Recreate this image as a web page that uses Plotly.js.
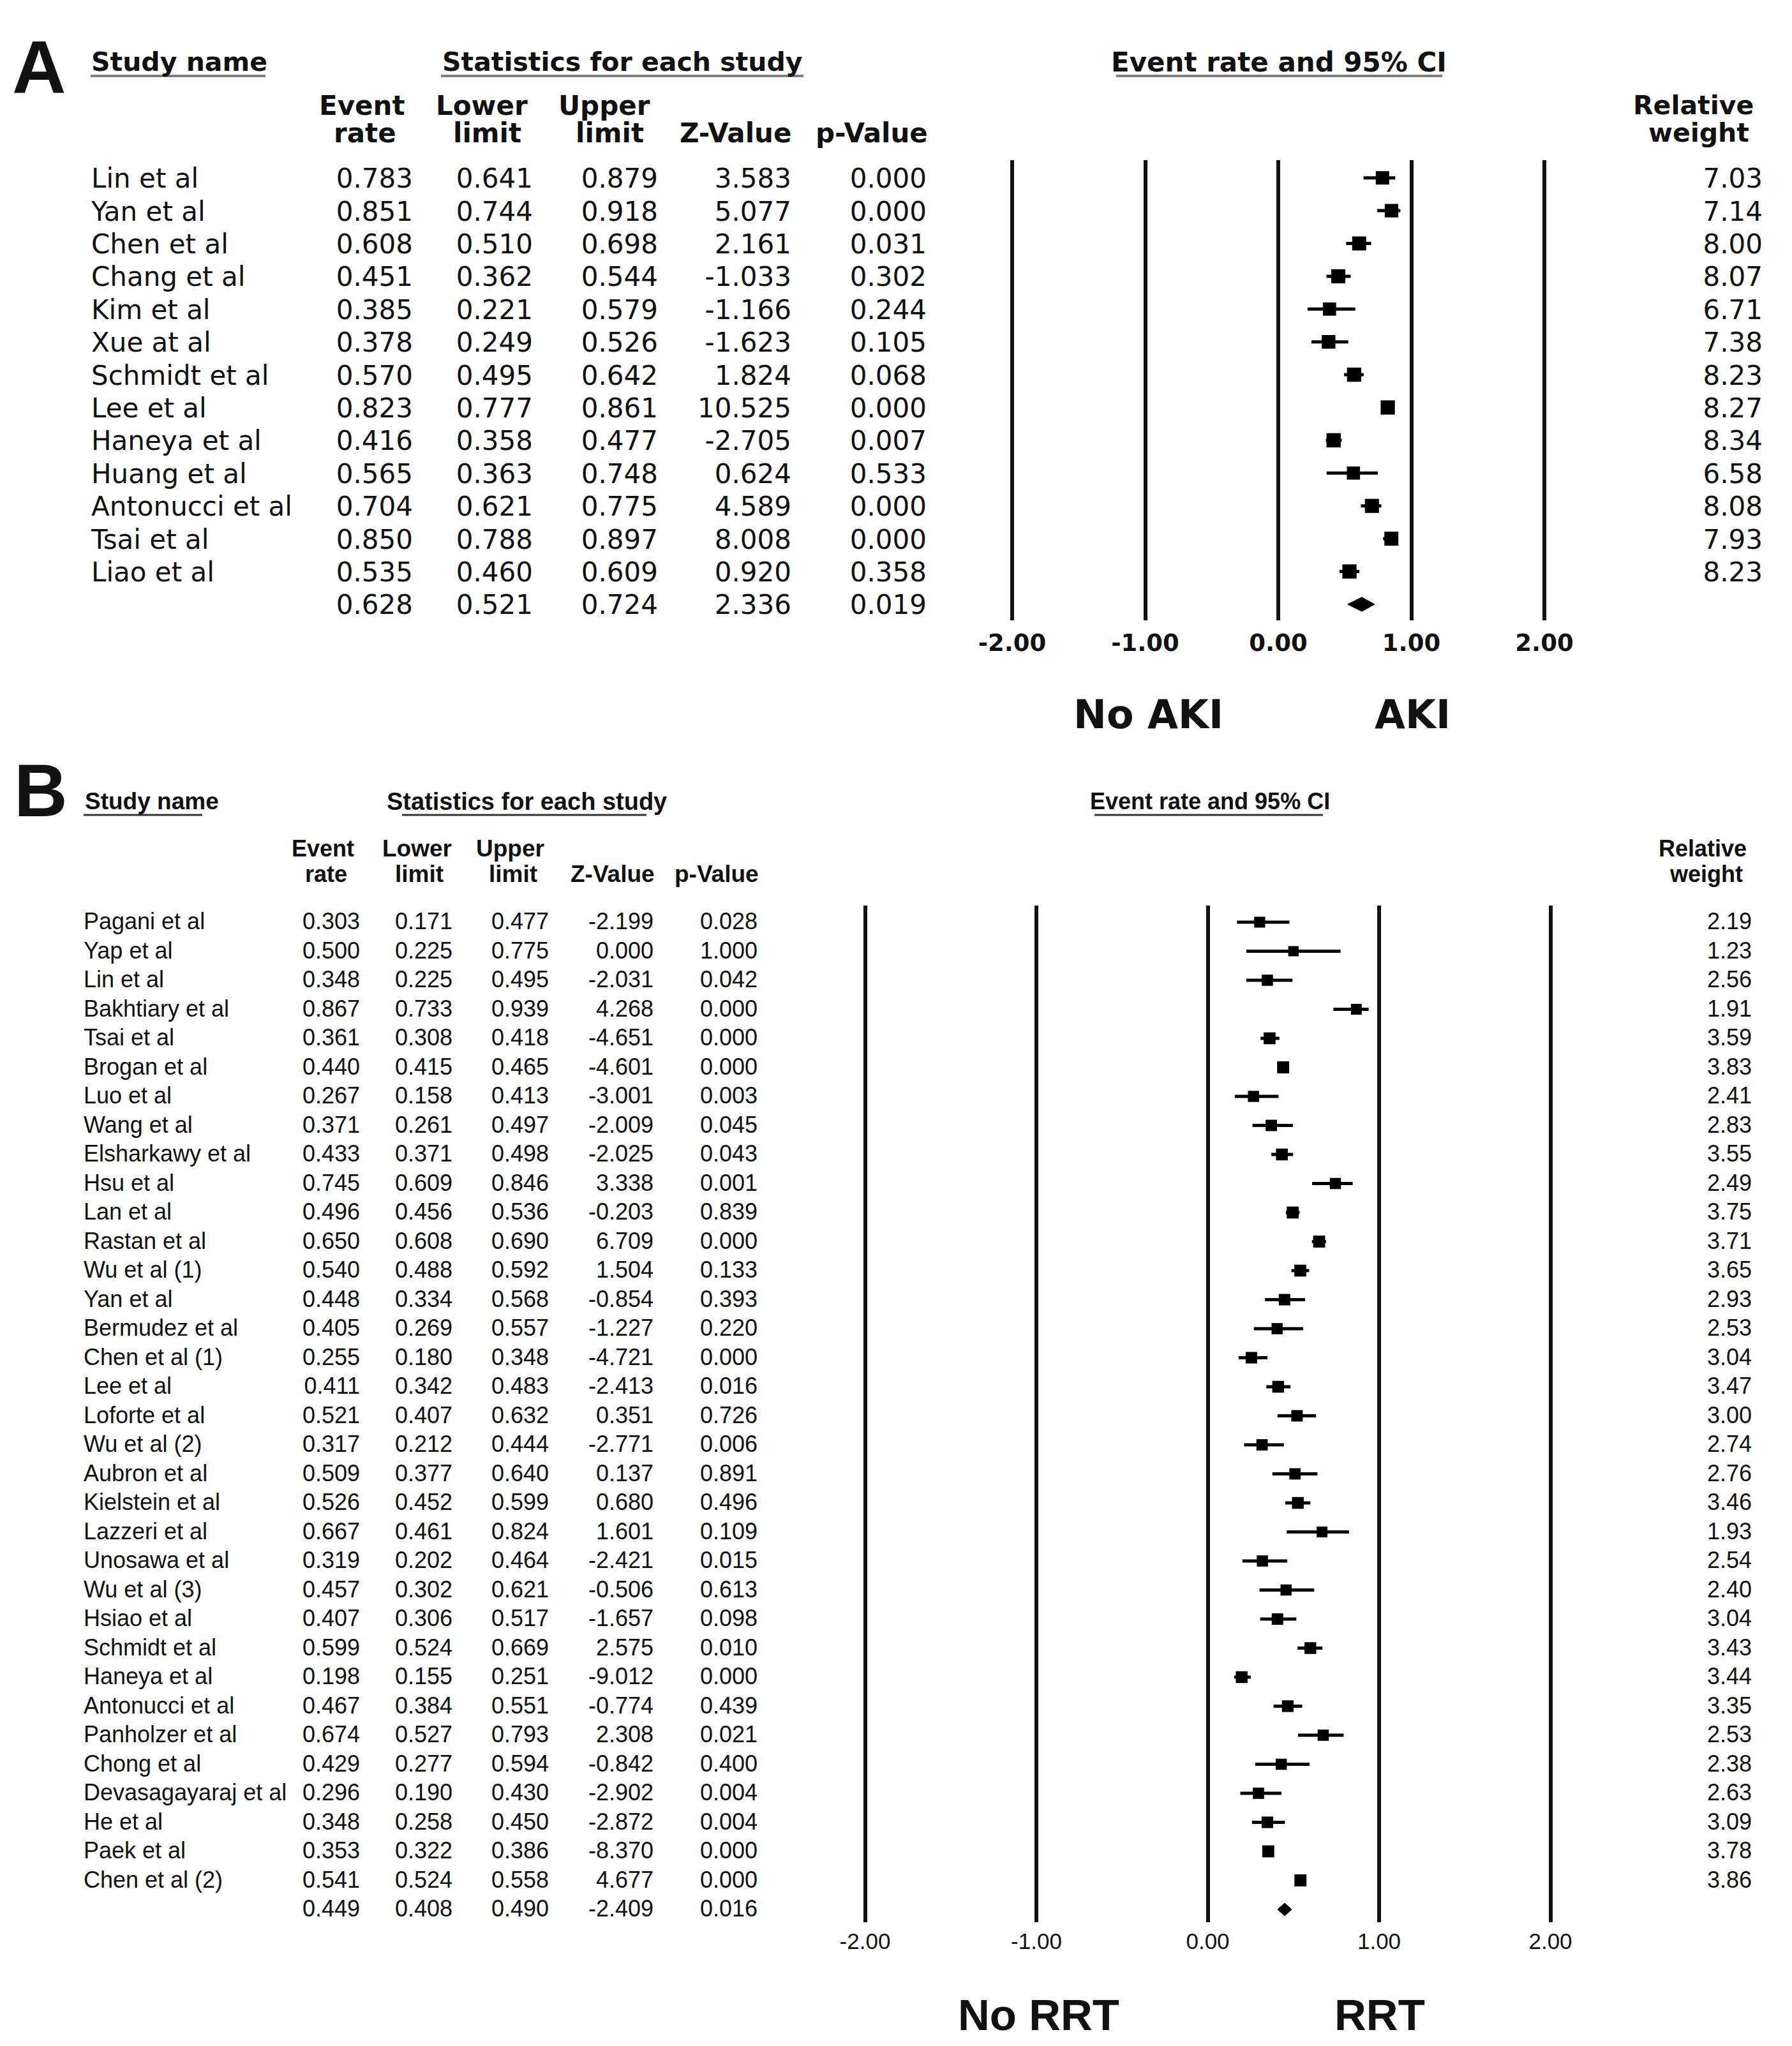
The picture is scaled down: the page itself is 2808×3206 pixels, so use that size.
<!DOCTYPE html>
<html><head><meta charset="utf-8">
<script src="https://cdn.plot.ly/plotly-3.0.1.min.js"></script>
<style>html,body{margin:0;padding:0;background:#fff}</style>
</head><body><div id="chart" style="width:2808px;height:3206px"></div>
<script>
// ---------------- Panel A data (AKI) ----------------
const studiesA = ["Lin et al","Yan et al","Chen et al","Chang et al","Kim et al","Xue at al","Schmidt et al","Lee et al","Haneya et al","Huang et al","Antonucci et al","Tsai et al","Liao et al"];
const rateA   = [0.783,0.851,0.608,0.451,0.385,0.378,0.570,0.823,0.416,0.565,0.704,0.850,0.535];
const lowerA  = [0.641,0.744,0.510,0.362,0.221,0.249,0.495,0.777,0.358,0.363,0.621,0.788,0.460];
const upperA  = [0.879,0.918,0.698,0.544,0.579,0.526,0.642,0.861,0.477,0.748,0.775,0.897,0.609];
const zA      = [3.583,5.077,2.161,-1.033,-1.166,-1.623,1.824,10.525,-2.705,0.624,4.589,8.008,0.920];
const pA      = [0.000,0.000,0.031,0.302,0.244,0.105,0.068,0.000,0.007,0.533,0.000,0.000,0.358];
const weightA = [7.03,7.14,8.00,8.07,6.71,7.38,8.23,8.27,8.34,6.58,8.08,7.93,8.23];
const pooledA = [0.628,0.521,0.724,2.336,0.019]; // rate, lower, upper, Z, p

// ---------------- Panel B data (RRT) ----------------
const studiesB = ["Pagani et al","Yap et al","Lin et al","Bakhtiary et al","Tsai et al","Brogan et al","Luo et al","Wang et al","Elsharkawy et al","Hsu et al","Lan et al","Rastan et al","Wu et al (1)","Yan et al","Bermudez et al","Chen et al (1)","Lee et al","Loforte et al","Wu et al (2)","Aubron et al","Kielstein et al","Lazzeri et al","Unosawa et al","Wu et al (3)","Hsiao et al","Schmidt et al","Haneya et al","Antonucci et al","Panholzer et al","Chong et al","Devasagayaraj et al","He et al","Paek et al","Chen et al (2)"];
const rateB   = [0.303,0.500,0.348,0.867,0.361,0.440,0.267,0.371,0.433,0.745,0.496,0.650,0.540,0.448,0.405,0.255,0.411,0.521,0.317,0.509,0.526,0.667,0.319,0.457,0.407,0.599,0.198,0.467,0.674,0.429,0.296,0.348,0.353,0.541];
const lowerB  = [0.171,0.225,0.225,0.733,0.308,0.415,0.158,0.261,0.371,0.609,0.456,0.608,0.488,0.334,0.269,0.180,0.342,0.407,0.212,0.377,0.452,0.461,0.202,0.302,0.306,0.524,0.155,0.384,0.527,0.277,0.190,0.258,0.322,0.524];
const upperB  = [0.477,0.775,0.495,0.939,0.418,0.465,0.413,0.497,0.498,0.846,0.536,0.690,0.592,0.568,0.557,0.348,0.483,0.632,0.444,0.640,0.599,0.824,0.464,0.621,0.517,0.669,0.251,0.551,0.793,0.594,0.430,0.450,0.386,0.558];
const zB      = [-2.199,0.000,-2.031,4.268,-4.651,-4.601,-3.001,-2.009,-2.025,3.338,-0.203,6.709,1.504,-0.854,-1.227,-4.721,-2.413,0.351,-2.771,0.137,0.680,1.601,-2.421,-0.506,-1.657,2.575,-9.012,-0.774,2.308,-0.842,-2.902,-2.872,-8.370,4.677];
const pB      = [0.028,1.000,0.042,0.000,0.000,0.000,0.003,0.045,0.043,0.001,0.839,0.000,0.133,0.393,0.220,0.000,0.016,0.726,0.006,0.891,0.496,0.109,0.015,0.613,0.098,0.010,0.000,0.439,0.021,0.400,0.004,0.004,0.000,0.000];
const weightB = [2.19,1.23,2.56,1.91,3.59,3.83,2.41,2.83,3.55,2.49,3.75,3.71,3.65,2.93,2.53,3.04,3.47,3.00,2.74,2.76,3.46,1.93,2.54,2.40,3.04,3.43,3.44,3.35,2.53,2.38,2.63,3.09,3.78,3.86];
const pooledB = [0.449,0.408,0.490,-2.409,0.016];

// ---------------- axis ticks ----------------
const tickVals   = [-2,-1,0,1,2];
const tickLabels = ["-2.00","-1.00","0.00","1.00","2.00"];

// ---------------- geometry helpers (page pixels) ----------------
const W = 2808, H = 3206;
const px = v => v / W;
const py = v => 1 - v / H;
const INK = '#111';

function buildPanel(o) {
  const n = o.names.length;
  const idx = o.names.map((_, i) => i);
  const all = idx.concat([n]);
  const traces = [];
  // study estimates with 95% CI
  traces.push({
    type: 'scatter', mode: 'markers', xaxis: o.fx, yaxis: o.ya,
    x: o.rate, y: idx, hoverinfo: 'skip',
    marker: { symbol: 'square', size: o.weight.map(w => o.mBase + o.mScale * w), color: '#000', opacity: 1, line: {width: 0} },
    error_x: { type: 'data', symmetric: false,
      array: o.upper.map((u, i) => u - o.rate[i]),
      arrayminus: o.lower.map((l, i) => o.rate[i] - l),
      thickness: o.ciW, width: 0, color: '#000' }
  });
  // pooled diamond
  const pl = o.pooled;
  traces.push({
    type: 'scatter', mode: 'lines', fill: 'toself', fillcolor: '#000', xaxis: o.fx, yaxis: o.ya,
    x: [pl[1], pl[0], pl[2], pl[0], pl[1]],
    y: [n, n - o.dh, n, n + o.dh, n],
    line: { color: '#000', width: 1 }, hoverinfo: 'skip'
  });
  // table columns
  const tf = { family: o.font, size: o.fs, color: INK };
  traces.push({ type: 'scatter', mode: 'text', xaxis: o.tx, yaxis: o.ty, cliponaxis: false,
    x: idx.map(() => o.col.name), y: idx, text: o.names, textposition: 'middle right', textfont: tf, hoverinfo: 'skip' });
  const cols = [
    [o.rate.concat([pl[0]]), o.col.rate, 3],
    [o.lower.concat([pl[1]]), o.col.lower, 3],
    [o.upper.concat([pl[2]]), o.col.upper, 3],
    [o.z.concat([pl[3]]), o.col.z, 3],
    [o.p.concat([pl[4]]), o.col.p, 3]
  ];
  cols.forEach(c => traces.push({ type: 'scatter', mode: 'text', xaxis: o.tx, yaxis: o.ty, cliponaxis: false,
    x: all.map(() => c[1]), y: all, text: c[0].map(v => v.toFixed(c[2])), textposition: 'middle left', textfont: tf, hoverinfo: 'skip' }));
  traces.push({ type: 'scatter', mode: 'text', xaxis: o.tx, yaxis: o.ty, cliponaxis: false,
    x: idx.map(() => o.col.weight), y: idx, text: o.weight.map(v => v.toFixed(2)), textposition: 'middle left', textfont: tf, hoverinfo: 'skip' });
  return traces;
}

const traces = [].concat(
  buildPanel({ names: studiesA, rate: rateA, lower: lowerA, upper: upperA, z: zA, p: pA, weight: weightA, pooled: pooledA,
    fx: 'x', tx: 'x2', ya: 'y', ty: 'y3', font: 'DejaVu Sans', fs: 42, mBase: 14, mScale: 1, ciW: 5, dh: 0.215,
    col: { name: 143, rate: 647, lower: 835, upper: 1031, z: 1240, p: 1452, weight: 2762 } }),
  buildPanel({ names: studiesB, rate: rateB, lower: lowerB, upper: upperB, z: zB, p: pB, weight: weightB, pooled: pooledB,
    fx: 'x3', tx: 'x4', ya: 'y2', ty: 'y4', font: 'Liberation Sans', fs: 36, mBase: 15, mScale: 1, ciW: 5, dh: 0.22,
    col: { name: 131, rate: 564, lower: 709, upper: 860, z: 1024, p: 1187, weight: 2745 } })
);

// ---------------- annotations ----------------
const annotations = [];
function ann(text, x, y, font, size, bold, anchor) {
  annotations.push({ text: text, x: px(x), y: py(y), xref: 'paper', yref: 'paper', showarrow: false,
    xanchor: anchor || 'center', yanchor: 'middle',
    font: { family: font, size: size, color: INK, weight: bold ? 'bold' : 'normal' } });
}
const FA = 'DejaVu Sans', FB = 'Liberation Sans', FL = 'Liberation Sans Narrow, Liberation Sans';
// Panel A
ann('A', 61, 106, FL, 117, true);
ann('Study name', 141, 97, FA, 41, true, 'left');
ann('Statistics for each study', 975, 97, FA, 41, true);
ann('Event rate and 95% CI', 2004, 97, FA, 42, true);
ann('Event', 567, 165, FA, 42, true);  ann('rate', 572, 208, FA, 42, true);
ann('Lower', 755, 165, FA, 42, true);  ann('limit', 763, 208, FA, 42, true);
ann('Upper', 947, 165, FA, 42, true);  ann('limit', 955, 208, FA, 42, true);
ann('Z-Value', 1152, 208, FA, 42, true);
ann('p-Value', 1366, 208, FA, 42, true);
ann('Relative', 2653, 165, FA, 41, true); ann('weight', 2662, 208, FA, 41, true);
ann('No AKI', 1799, 1119, FA, 62, true);
ann('AKI', 2213, 1119, FA, 62, true);
// Panel B
ann('B', 64, 1239, FL, 116, true);
ann('Study name', 131, 1256, FB, 37, true, 'left');
ann('Statistics for each study', 825, 1256, FB, 38, true);
ann('Event rate and 95% CI', 1896, 1256, FB, 36, true);
ann('Event', 506, 1329, FB, 36, true);  ann('rate', 511, 1369, FB, 36, true);
ann('Lower', 653, 1329, FB, 37, true);  ann('limit', 657, 1369, FB, 37, true);
ann('Upper', 799, 1329, FB, 37, true);  ann('limit', 804, 1369, FB, 37, true);
ann('Z-Value', 960, 1369, FB, 37, true);
ann('p-Value', 1123, 1369, FB, 37, true);
ann('Relative', 2668, 1329, FB, 36, true); ann('weight', 2673, 1369, FB, 36, true);
ann('No RRT', 1627, 3157, FB, 69, true);
ann('RRT', 2162, 3157, FB, 69, true);

// underlines
const shapes = [];
function uline(x0, x1, y, w, c) {
  shapes.push({ type: 'line', xref: 'paper', yref: 'paper', x0: px(x0), x1: px(x1), y0: py(y), y1: py(y), line: { color: c, width: w } });
}
uline(142, 416, 119, 4, '#808080');
uline(691, 1259, 119, 4, '#808080');
uline(1749, 2260, 119, 4, '#808080');
uline(131, 317, 1277, 3, '#333');
uline(630, 1013, 1277, 3, '#333');
uline(1715, 2073, 1277, 3, '#333');

// ---------------- axes ----------------
function forestAxis(dom, ya, font, size, bold, gw, standoff) {
  return { domain: dom, range: [-2.5, 2.5], anchor: ya, tickmode: 'array', tickvals: tickVals, ticktext: tickLabels,
    showgrid: true, gridcolor: INK, gridwidth: gw, zeroline: false, showline: false, ticks: '', automargin: false,
    ticklabelstandoff: standoff, fixedrange: true,
    tickfont: { family: font, size: size, color: INK, weight: bold ? 'bold' : 'normal' } };
}
const tableAxis = ya => ({ domain: [0, 1], range: [0, W], anchor: ya, visible: false, fixedrange: true });
const rowAxis = (dom, rng, anchor) => ({ domain: dom, range: rng, anchor: anchor, visible: false, fixedrange: true });

// row geometry: A rows start 278.7px, pitch 51.4px; B rows start 1445px, pitch 45.5px
// table text axes are shifted slightly so text glyphs centre on the rows
const shiftA = 5 / 51.4, shiftB = 2 / 45.5;
const rngA = [(972 - 278.7) / 51.4, (251 - 278.7) / 51.4];
const rngB = [(3012 - 1445) / 45.5, (1419 - 1445) / 45.5];
const layout = {
  width: W, height: H, margin: { l: 0, r: 0, t: 0, b: 0 }, showlegend: false,
  paper_bgcolor: '#fff', plot_bgcolor: 'rgba(0,0,0,0)',
  xaxis:  forestAxis([px(2003 - 2.5 * 208.5), px(2003 + 2.5 * 208.5)], 'y', FA, 37, true, 6, 10),
  xaxis2: tableAxis('y3'),
  yaxis:  rowAxis([py(972), py(251)], rngA, 'x'),
  yaxis3: rowAxis([py(972), py(251)], [rngA[0] - shiftA, rngA[1] - shiftA], 'x2'),
  xaxis3: forestAxis([px(1892.5 - 2.5 * 268.5), px(1892.5 + 2.5 * 268.5)], 'y2', FB, 35, false, 6, 6),
  xaxis4: tableAxis('y4'),
  yaxis2: rowAxis([py(3012), py(1419)], rngB, 'x3'),
  yaxis4: rowAxis([py(3012), py(1419)], [rngB[0] - shiftB, rngB[1] - shiftB], 'x4'),
  annotations: annotations, shapes: shapes
};

Plotly.newPlot('chart', traces, layout, { staticPlot: true, displayModeBar: false });
</script></body></html>
